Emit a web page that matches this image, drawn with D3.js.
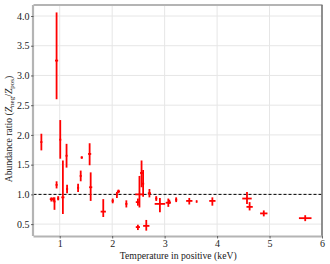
<!DOCTYPE html>
<html><head><meta charset="utf-8">
<script src="https://cdn.jsdelivr.net/npm/d3@7"></script>
<style>body{margin:0;background:#fff}svg{display:block}</style>
</head><body>
<svg id="c" width="330" height="264"></svg>
<script>
// Temperature (keV), half-width of x error, ratio, lower and upper y error ends
const temp  = [0.65,0.94,1.01,1.06,1.13,1.14,0.94,1.35,1.40,1.42,1.57,1.59,0.84,0.88,0.90,0.97,1.83,2.01,2.09,2.12,2.27,2.49,2.49,2.52,2.56,2.59,2.65,2.71,2.84,2.91,3.07,3.09,3.22,3.47,3.61,3.91,4.57,4.62,4.89,5.68];
const tErr  = [0.02,0.03,0.02,0.03,0.02,0.02,0.02,0.02,0.02,0.02,0.03,0.03,0.03,0.03,0.02,0.02,0.05,0.02,0.02,0.03,0.02,0.04,0.04,0.08,0.03,0.02,0.06,0.03,0.02,0.10,0.05,0.02,0.02,0.06,0.01,0.06,0.09,0.06,0.07,0.12];
const ratio = [1.88,3.25,1.92,0.95,1.65,1.09,1.16,1.11,1.31,1.62,1.68,1.12,0.92,0.92,0.88,0.93,0.71,0.89,1.00,1.05,0.84,0.87,0.45,1.00,1.36,1.18,0.47,1.02,0.93,0.84,0.86,0.87,0.91,0.89,0.88,0.89,0.93,0.79,0.68,0.60];
const rLo   = [1.74,2.60,1.60,0.67,1.45,1.02,1.10,1.04,1.22,1.60,1.49,0.89,0.88,0.88,0.74,0.90,0.62,0.85,0.94,1.02,0.78,0.81,0.40,0.78,1.12,0.96,0.39,0.95,0.89,0.70,0.79,0.84,0.87,0.83,0.86,0.81,0.84,0.73,0.63,0.55];
const rHi   = [2.02,4.06,2.25,1.57,1.85,1.16,1.22,1.18,1.40,1.64,1.86,1.37,0.95,0.95,0.95,0.97,0.92,0.93,1.04,1.08,0.90,0.93,0.49,1.31,1.57,1.41,0.57,1.09,0.97,0.94,0.93,0.91,0.95,0.94,0.90,0.95,1.04,0.87,0.73,0.65];
const xTicks = [1,2,3,4,5,6];
const yTicks = [0.5,1.0,1.5,2.0,2.5,3.0,3.5,4.0];

const svg = d3.select("#c");
const L = 33.5, R = 322, T = 5, B = 236;
const x = d3.scaleLinear().domain([0.5, 6]).range([L, R]);
const y = d3.scaleLinear().domain([0.30, 4.185]).range([B, T]);
const font = "'Liberation Serif','Times New Roman',serif";

// grid
svg.append("g").selectAll("line").data(xTicks).join("line")
  .attr("x1", d => x(d)).attr("x2", d => x(d)).attr("y1", T).attr("y2", B)
  .attr("stroke", "#e6e6e6").attr("stroke-width", 1);
svg.append("g").selectAll("line").data(yTicks).join("line")
  .attr("x1", L).attr("x2", R).attr("y1", d => y(d)).attr("y2", d => y(d))
  .attr("stroke", "#e6e6e6").attr("stroke-width", 1);

// reference line
svg.append("line").attr("x1", L).attr("x2", R).attr("y1", y(1)).attr("y2", y(1))
  .attr("stroke", "#000").attr("stroke-width", 1).attr("stroke-dasharray", "3,2");

// error bars
const idx = d3.range(temp.length);
const g = svg.append("g").attr("stroke", "#ff0000").attr("stroke-width", 1.8);
g.selectAll("line.v").data(idx).join("line").attr("class", "v")
  .attr("x1", i => x(temp[i])).attr("x2", i => x(temp[i]))
  .attr("y1", i => y(rLo[i])).attr("y2", i => y(rHi[i]));
g.selectAll("line.h").data(idx).join("line").attr("class", "h")
  .attr("x1", i => x(temp[i] - tErr[i])).attr("x2", i => x(temp[i] + tErr[i]))
  .attr("y1", i => y(ratio[i])).attr("y2", i => y(ratio[i]));

// frame
svg.append("line").attr("x1", L).attr("x2", R + 0.5).attr("y1", T).attr("y2", T).attr("stroke", "#b4b4b4").attr("stroke-width", 2);
svg.append("line").attr("x1", R).attr("x2", R).attr("y1", T).attr("y2", B).attr("stroke", "#6e6e6e").attr("stroke-width", 1.5);

// axes
const xAxis = svg.append("g").attr("transform", `translate(0,${B})`)
  .call(d3.axisBottom(x).tickValues(xTicks).tickFormat(d3.format("d")).tickSize(2.5).tickPadding(1));
const yAxis = svg.append("g").attr("transform", `translate(${L},0)`)
  .call(d3.axisLeft(y).tickValues(yTicks).tickFormat(d3.format(".1f")).tickSize(2.5).tickPadding(1.5));
[xAxis, yAxis].forEach(a => {
  a.select(".domain").attr("stroke", "#b4b4b4").attr("stroke-width", 2.2);
  a.selectAll(".tick line").attr("stroke", "#444").attr("stroke-width", 0.8);
  a.selectAll(".tick text").attr("font-family", font).attr("font-size", 10).attr("fill", "#222");
});
xAxis.select(".domain").attr("d", `M${L},0.5H${R}`);
yAxis.select(".domain").attr("d", `M-0.5,${T}V${B}`);

// titles
svg.append("text").attr("x", (L + R) / 2 + 0.5).attr("y", 258.5).attr("text-anchor", "middle")
  .attr("font-family", font).attr("font-size", 9.7).attr("fill", "#222")
  .text("Temperature in positive (keV)");
const yt = svg.append("text").attr("transform", "translate(12,129) rotate(-90)")
  .attr("text-anchor", "middle").attr("font-family", font).attr("font-size", 9.7).attr("fill", "#222");
yt.append("tspan").text("Abundance ratio (");
yt.append("tspan").attr("font-style", "italic").text("Z");
yt.append("tspan").attr("font-size", 7).attr("dy", 2).text("neg");
yt.append("tspan").attr("dy", -2).text("/");
yt.append("tspan").attr("font-style", "italic").text("Z");
yt.append("tspan").attr("font-size", 7).attr("dy", 2).text("pos");
yt.append("tspan").attr("dy", -2).text(")");
</script>
</body></html>
